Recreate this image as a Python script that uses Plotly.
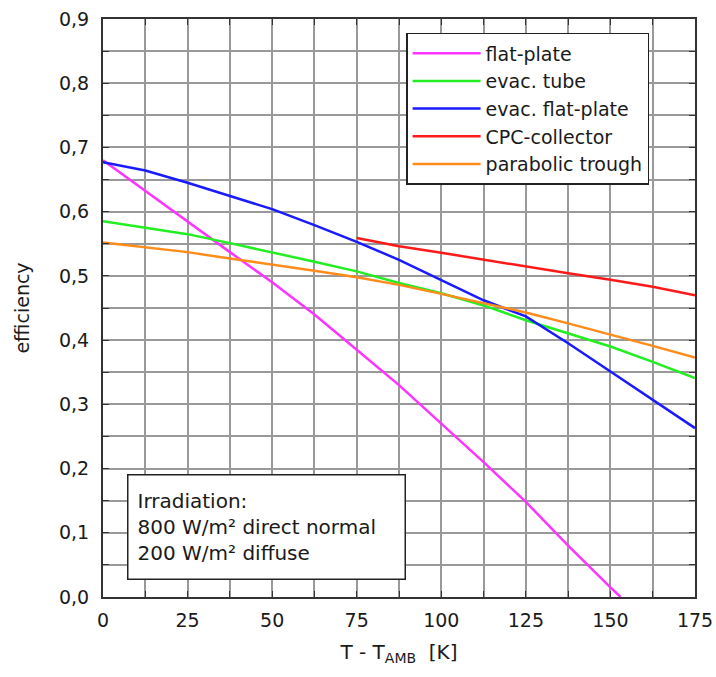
import plotly.graph_objects as go

x_std = [0, 12.5, 25, 37.5, 50, 62.5, 75, 87.5, 100, 112.5, 125, 137.5, 150, 162.5, 175]

flat_x = [0, 12.5, 25, 37.5, 50, 62.5, 75, 87.5, 100, 112.5, 125, 137.5, 150, 153]
flat_y = [0.68, 0.632, 0.584, 0.537, 0.49, 0.44, 0.385, 0.33, 0.27, 0.21, 0.148, 0.08, 0.015, 0.0]

evac_tube_y = [0.585, 0.575, 0.565, 0.551, 0.537, 0.522, 0.507, 0.489, 0.473, 0.454, 0.431, 0.411, 0.39, 0.366, 0.341]
evac_flat_y = [0.677, 0.664, 0.645, 0.625, 0.604, 0.579, 0.553, 0.525, 0.494, 0.462, 0.437, 0.395, 0.351, 0.307, 0.263]
trough_y = [0.552, 0.545, 0.537, 0.527, 0.518, 0.508, 0.498, 0.486, 0.472, 0.457, 0.443, 0.426, 0.409, 0.391, 0.373]

cpc_x = [75, 87.5, 100, 112.5, 125, 137.5, 150, 162.5, 175]
cpc_y = [0.559, 0.546, 0.536, 0.525, 0.514, 0.504, 0.494, 0.483, 0.47]

y_ticks = [0, 0.1, 0.2, 0.3, 0.4, 0.5, 0.6, 0.7, 0.8, 0.9]
y_labels = ["0,0", "0,1", "0,2", "0,3", "0,4", "0,5", "0,6", "0,7", "0,8", "0,9"]
x_ticks = [0, 25, 50, 75, 100, 125, 150, 175]

FONT = "DejaVu Sans, Verdana, sans-serif"

fig = go.Figure()
fig.add_trace(go.Scatter(x=flat_x, y=flat_y, mode="lines", name="flat-plate",
                         line=dict(color="#ff33ff", width=2.5)))
fig.add_trace(go.Scatter(x=x_std, y=evac_tube_y, mode="lines", name="evac. tube",
                         line=dict(color="#22ee22", width=2.5)))
fig.add_trace(go.Scatter(x=x_std, y=evac_flat_y, mode="lines", name="evac. flat-plate",
                         line=dict(color="#1a1aff", width=2.5)))
fig.add_trace(go.Scatter(x=cpc_x, y=cpc_y, mode="lines", name="CPC-collector",
                         line=dict(color="#ff1a1a", width=2.5)))
fig.add_trace(go.Scatter(x=x_std, y=trough_y, mode="lines", name="parabolic trough",
                         line=dict(color="#ff8c1a", width=2.5)))

fig.update_layout(
    width=716, height=677,
    margin=dict(l=103, r=21, t=19, b=80),
    paper_bgcolor="white", plot_bgcolor="white",
    font=dict(family=FONT, size=19, color="#1a1a1a"),
    showlegend=True,
    legend=dict(x=0.512, y=0.976, xanchor="left", yanchor="top",
                bordercolor="#222", borderwidth=1.5, bgcolor="white",
                font=dict(size=19, family=FONT), tracegroupgap=0,
                itemwidth=68),
    annotations=[dict(
        x=0.0405, y=0.029, xref="paper", yref="paper", xanchor="left", yanchor="bottom",
        text="Irradiation:<br>800 W/m² direct normal<br>200 W/m² diffuse",
        align="left", showarrow=False, bordercolor="#222", borderwidth=1.5,
        width=258, height=85,
        bgcolor="white", borderpad=9, font=dict(size=20, family=FONT))],
)

fig.update_xaxes(
    range=[0, 175], tickvals=x_ticks, ticks="inside", ticklen=6, tickcolor="#333",
    showline=True, linecolor="#333", linewidth=2, mirror="allticks",
    showgrid=True, gridcolor="#999", gridwidth=1.5,
    minor=dict(dtick=12.5, tick0=0, showgrid=True, gridcolor="#999", gridwidth=1.5,
               ticks="inside", ticklen=6, tickcolor="#333"),
    tickfont=dict(size=19), zeroline=False, automargin=False, ticklabelstandoff=5,
    ticklabeloverflow="allow",
    title=dict(text="T - T<sub>AMB</sub>  [K]", font=dict(size=20)),
)
fig.update_yaxes(
    range=[0, 0.9], tickvals=y_ticks, ticktext=y_labels, ticks="inside", ticklen=6,
    tickcolor="#333", showline=True, linecolor="#333", linewidth=2, mirror="allticks",
    showgrid=True, gridcolor="#999", gridwidth=1.5,
    minor=dict(dtick=0.05, tick0=0, showgrid=True, gridcolor="#999", gridwidth=1.5,
               ticks="inside", ticklen=6, tickcolor="#333"),
    tickfont=dict(size=19), zeroline=False, automargin=False, ticklabelstandoff=8,
    ticklabeloverflow="allow",
    title=dict(text="efficiency", font=dict(size=19), standoff=24),
)

fig.write_html("out.html", config={"displayModeBar": False},
               post_script="document.body.style.margin='0';document.body.style.overflow='hidden';")
